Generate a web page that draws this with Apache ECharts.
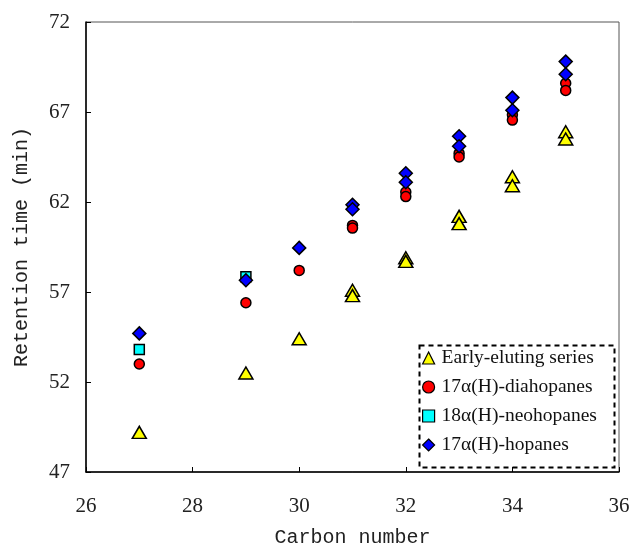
<!DOCTYPE html>
<html>
<head>
<meta charset="utf-8">
<script src="https://cdn.jsdelivr.net/npm/echarts@6/dist/echarts.min.js"></script>
<style>
  html, body { margin: 0; padding: 0; background: #fff; }
  #chart { width: 633px; height: 549px; }
</style>
</head>
<body>
<div id="chart"></div>
<script>
// retention time (min) per carbon number
const earlyEluting = [
  [27, 49.2], [29, 52.5], [30, 54.4],
  [31, 57.1], [31, 56.8], [32, 58.9], [32, 58.7],
  [33, 61.2], [33, 60.8], [34, 63.4], [34, 62.9],
  [35, 65.9], [35, 65.5]
];
const diahopanes = [
  [27, 53.0], [29, 56.4], [30, 58.2],
  [31, 60.7], [31, 60.55], [32, 62.55], [32, 62.3],
  [33, 64.7], [33, 64.5], [34, 66.85], [34, 66.55],
  [35, 68.6], [35, 68.2]
];
const neohopanes = [[27, 53.8], [29, 57.85]];
const hopanes = [
  [27, 54.7], [29, 57.65], [30, 59.45],
  [31, 61.85], [31, 61.6], [32, 63.6], [32, 63.1],
  [33, 65.65], [33, 65.1], [34, 67.8], [34, 67.1],
  [35, 69.8], [35, 69.1]
];
const seriesNames = ['Early-eluting series', '17α(H)-diahopanes', '18α(H)-neohopanes', '17α(H)-hopanes'];

const chart = echarts.init(document.getElementById('chart'));
const serif = 'Liberation Serif';
const mono = 'Liberation Mono';

function scatter(name, data, symbol, size, color) {
  return {
    name: name,
    type: 'scatter',
    data: data,
    symbol: symbol,
    symbolSize: size,
    itemStyle: { color: color, borderColor: '#000', borderWidth: 1.5, opacity: 1 }
  };
}

const option = {
  animation: false,
  grid: {
    left: 86, right: 14, top: 22, bottom: 77,
    outerBoundsMode: 'none',
    containLabel: false,
    show: true, borderColor: '#555', borderWidth: 1
  },
  xAxis: {
    type: 'value',
    min: 26, max: 36, interval: 2,
    name: 'Carbon number',
    nameLocation: 'middle',
    nameGap: 56,
    nameTextStyle: { fontFamily: mono, fontSize: 20, color: '#222' },
    axisLine: { show: true, onZero: false, lineStyle: { color: '#000', width: 1.5 } },
    axisTick: { show: true, inside: true, length: 5, lineStyle: { color: '#000' } },
    axisLabel: { fontFamily: serif, fontSize: 21, color: '#222', margin: 24 },
    splitLine: { show: false }
  },
  yAxis: {
    type: 'value',
    min: 47, max: 72, interval: 5,
    name: 'Retention time (min)',
    nameLocation: 'middle',
    nameGap: 54,
    nameTextStyle: { fontFamily: mono, fontSize: 20, color: '#222' },
    axisLine: { show: true, onZero: false, lineStyle: { color: '#000', width: 1.5 } },
    axisTick: { show: true, inside: true, length: 5, lineStyle: { color: '#000' } },
    axisLabel: { fontFamily: serif, fontSize: 21, color: '#222', margin: 16 },
    splitLine: { show: false }
  },
  legend: {
    orient: 'vertical',
    left: 422,
    top: 343,
    padding: [5, 0, 0, 0],
    itemWidth: 12,
    itemHeight: 12,
    itemGap: 9,
    data: [
      { name: seriesNames[0], icon: 'triangle' },
      { name: seriesNames[1], icon: 'circle' },
      { name: seriesNames[2], icon: 'rect' },
      { name: seriesNames[3], icon: 'diamond' }
    ],
    itemStyle: { borderColor: '#000', borderWidth: 1.2 },
    textStyle: { fontFamily: serif, fontSize: 19.5, lineHeight: 20, color: '#111', padding: [0, 0, 0, 2] }
  },
  graphic: [{
    type: 'rect',
    left: 417, top: 343,
    shape: { width: 195, height: 122 },
    style: { fill: 'none', stroke: '#000', lineWidth: 2, lineDash: [5, 4] },
    z: 100
  }],
  series: [
    scatter(seriesNames[0], earlyEluting, 'triangle', [14, 12], '#ffff00'),
    scatter(seriesNames[1], diahopanes, 'circle', 10, '#ff0000'),
    scatter(seriesNames[2], neohopanes, 'rect', 10, '#00ffff'),
    scatter(seriesNames[3], hopanes, 'diamond', [13, 13], '#0000ff')
  ]
};
chart.setOption(option);
</script>
</body>
</html>
